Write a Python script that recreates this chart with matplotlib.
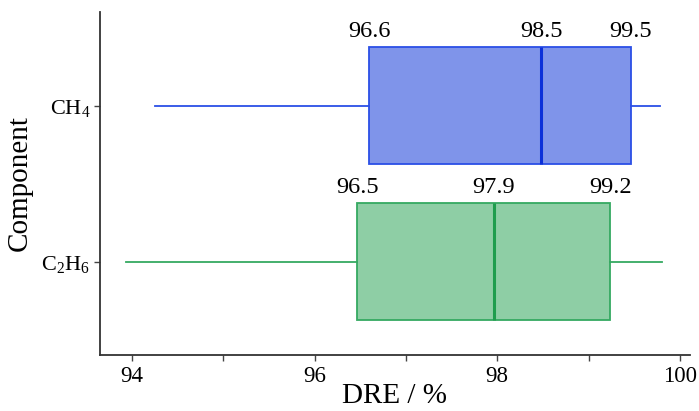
import matplotlib
matplotlib.use("Agg")
import matplotlib.pyplot as plt

# Данные
components = ["C$_2$H$_6$", "CH$_4$"]
whislo = [93.94, 94.25]
q1 = [96.47, 96.60]
med = [97.96, 98.48]
q3 = [99.24, 99.46]
whishi = [99.80, 99.78]
q1_lbl = ["96.5", "96.6"]
med_lbl = ["97.9", "98.5"]
q3_lbl = ["99.2", "99.5"]

fills = ["#8ecea5", "#7f94ea"]
edges = ["#35a961", "#2b4fe6"]
med_colors = ["#1f9d4d", "#0b30d9"]

plt.rcParams["font.family"] = ["Liberation Serif", "DejaVu Serif"]
plt.rcParams["mathtext.fontset"] = "custom"
plt.rcParams["mathtext.rm"] = "Liberation Serif"
plt.rcParams["mathtext.it"] = "Liberation Serif:italic"

fig = plt.figure(figsize=(6.99, 4.11), dpi=100)
ax = fig.add_axes([0.143, 0.136, 0.844, 0.835])

pos = [1, 2]
for i in range(len(components)):
    st = [dict(whislo=whislo[i], q1=q1[i], med=med[i], q3=q3[i],
               whishi=whishi[i], fliers=[])]
    ax.bxp(st, positions=[pos[i]], widths=0.75, orientation="horizontal",
           patch_artist=True, showcaps=False, showfliers=False,
           boxprops=dict(facecolor=fills[i], edgecolor=edges[i], linewidth=1.3),
           whiskerprops=dict(color=edges[i], linewidth=1.3),
           medianprops=dict(color=med_colors[i], linewidth=2.2))
    top = pos[i] + 0.375 + 0.03
    for v, s in zip([q1[i], med[i], q3[i]], [q1_lbl[i], med_lbl[i], q3_lbl[i]]):
        ax.text(v, top, s, ha="center", va="bottom", fontsize=17.5)

ax.set_xlim(93.65, 100.11)
ax.set_ylim(0.4, 2.6)
ax.set_xticks(range(94, 101))
ax.set_xticklabels([str(t) if t % 2 == 0 else "" for t in range(94, 101)])
ax.set_yticks(pos)
ax.set_yticklabels(components)
ax.tick_params(axis="x", labelsize=16.5, length=4, width=1, color="#444444", pad=4)
ax.tick_params(axis="y", labelsize=16, length=4, width=1, color="#444444", pad=3)

for s in ["top", "right"]:
    ax.spines[s].set_visible(False)
for s in ["left", "bottom"]:
    ax.spines[s].set_linewidth(1.3)
    ax.spines[s].set_color("#333333")

ax.set_xlabel("DRE / %", fontsize=21, labelpad=-3)
ax.set_ylabel("Component", fontsize=21, labelpad=6)

fig.savefig("out.png", dpi=100)
